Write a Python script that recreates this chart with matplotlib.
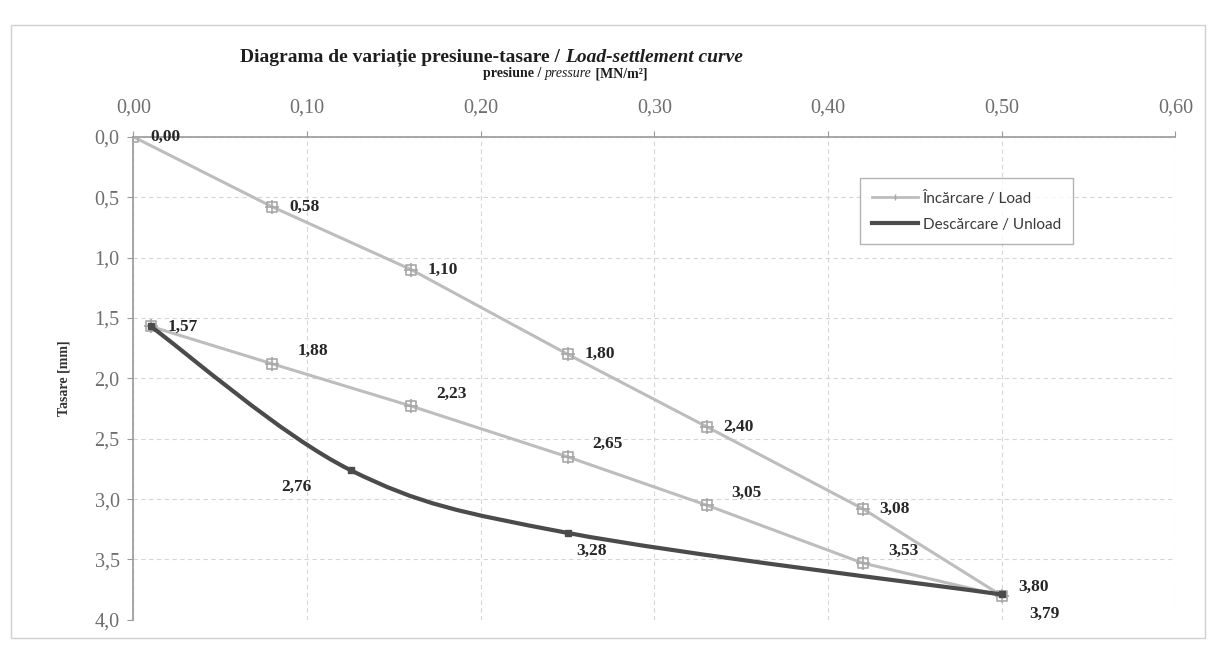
import matplotlib

matplotlib.use("Agg")
import matplotlib.pyplot as plt
from matplotlib.path import Path
from matplotlib.patches import PathPatch, Rectangle
from matplotlib.lines import Line2D
from matplotlib.ticker import FuncFormatter, MultipleLocator

# load branch + reload branch (drawn as one "Load" series, as in the sheet)
load_p = [0.00, 0.08, 0.16, 0.25, 0.33, 0.42, 0.50]
load_s = [0.00, 0.58, 1.10, 1.80, 2.40, 3.08, 3.80]
reload_p = [0.42, 0.33, 0.25, 0.16, 0.08, 0.01]
reload_s = [3.53, 3.05, 2.65, 2.23, 1.88, 1.57]
# unload branch (smoothed line)
unload_p = [0.50, 0.25, 0.125, 0.01]
unload_s = [3.79, 3.28, 2.76, 1.57]

LIGHT = "#bdbdbd"
DARK = "#4b4b4b"
TICK_C = "#6e6e6e"
SERIF = "Liberation Serif"

plt.rcParams["font.family"] = [SERIF, "DejaVu Serif"]

fig = plt.figure(figsize=(12.13, 6.58), dpi=100, facecolor="white")
ax = fig.add_axes([0.110, 0.058, 0.859, 0.734])

# chart-area frame
fig.patches.append(Rectangle((0.009, 0.03), 0.984, 0.932, transform=fig.transFigure,
                             fill=False, edgecolor="#cfcfcf", linewidth=1))

# marker: square with a plus inside
mk = Path([(-1, -1), (1, -1), (1, 1), (-1, 1), (-1, -1), (0, -1.5), (0, 1.5), (-1.5, 0), (1.5, 0)],
          [Path.MOVETO, Path.LINETO, Path.LINETO, Path.LINETO, Path.CLOSEPOLY,
           Path.MOVETO, Path.LINETO, Path.MOVETO, Path.LINETO])

all_p = load_p + reload_p
all_s = load_s + reload_s
ax.plot(all_p, all_s, color=LIGHT, lw=2.2, marker=mk, ms=10, mfc="none", mec="#a8a8a8", mew=1.2, zorder=3)

# smoothed unload curve (Excel-like bezier)
pts = list(zip(unload_p, unload_s))
verts = [pts[0]]
codes = [Path.MOVETO]
n = len(pts)
for i in range(n - 1):
    p_prev = pts[i - 1] if i > 0 else pts[i]
    p0, p1 = pts[i], pts[i + 1]
    p_next = pts[i + 2] if i + 2 < n else pts[i + 1]
    c1 = (p0[0] + (p1[0] - p_prev[0]) / 6, p0[1] + (p1[1] - p_prev[1]) / 6)
    c2 = (p1[0] - (p_next[0] - p0[0]) / 6, p1[1] - (p_next[1] - p0[1]) / 6)
    verts += [c1, c2, p1]
    codes += [Path.CURVE4] * 3
ax.add_patch(PathPatch(Path(verts, codes), fill=False, edgecolor=DARK, lw=3, zorder=4))
ax.plot(unload_p, unload_s, ls="none", marker="s", ms=5, color=DARK, zorder=5)

# data labels
LBL = dict(fontsize=12.5, fontweight="bold", color="#262626", va="center", ha="left")


def lab(x, y, v, dx, dy):
    ax.annotate(f"{v:.2f}".replace(".", ","), (x, y), xytext=(dx, dy), textcoords="offset points", **LBL)


for p, s in zip(load_p, load_s):
    lab(p, s, s, 12, 0 if s < 3.5 else 6)
for p, s in zip(reload_p, reload_s):
    lab(p, s, s, 12 if p < 0.05 else 18, 0 if p < 0.05 else 9)
for p, s in zip(unload_p, unload_s):
    if p == 0.125:
        lab(p, s, s, -50, -12)
    elif p == 0.25:
        lab(p, s, s, 6, -13)
    elif p == 0.50:
        lab(p, s, s, 20, -14)

# axes
ax.set_xlim(0, 0.60)
ax.set_ylim(4.0, 0.0)
ax.xaxis.tick_top()
ax.xaxis.set_major_locator(MultipleLocator(0.1))
ax.yaxis.set_major_locator(MultipleLocator(0.5))
ax.xaxis.set_major_formatter(FuncFormatter(lambda v, _: f"{v:.2f}".replace(".", ",")))
ax.yaxis.set_major_formatter(FuncFormatter(lambda v, _: f"{v:.1f}".replace(".", ",")))
ax.tick_params(labelsize=14.5, colors="#9a9a9a", labelcolor=TICK_C, length=4, pad=6)
ax.tick_params(axis="x", pad=10)
for s in ("bottom", "right"):
    ax.spines[s].set_visible(False)
for s in ("top", "left"):
    ax.spines[s].set_color("#9a9a9a")
    ax.spines[s].set_linewidth(1.2)
ax.grid(True, color="#d6d6d6", ls=(0, (4, 3)), lw=0.8)
ax.set_axisbelow(True)

ax.set_ylabel("Tasare [mm]", fontsize=10, fontweight="bold", color="#333333", labelpad=17)

# legend
h_load = Line2D([], [], color=LIGHT, lw=2, marker="|", ms=4, mec="#a8a8a8")
h_un = Line2D([], [], color=DARK, lw=3)
leg = ax.legend([h_load, h_un], ["Încărcare / Load", "Descărcare / Unload"],
                loc="upper left", bbox_to_anchor=(0.69, 0.93), frameon=True, fancybox=False,
                prop={"family": "Lato", "size": 11}, handlelength=3, handletextpad=0.3,
                borderpad=0.8, labelspacing=0.8, labelcolor="#3a3a3a")
leg.get_frame().set_edgecolor("#a0a0a0")
leg.get_frame().set_linewidth(1)

# rich-text title and x-axis label
renderer = fig.canvas.get_renderer()


def rich(xc, y, pieces, size):
    texts = [fig.text(0, y, s, size=size, va="center", ha="left", color="#1e1e1e", **kw) for s, kw in pieces]
    widths = [t.get_window_extent(renderer).width for t in texts]
    x0 = xc * fig.bbox.width - sum(widths) / 2
    for t, w in zip(texts, widths):
        t.set_x(x0 / fig.bbox.width)
        x0 += w


rich(0.405, 0.913, [("Diagrama de variație presiune-tasare / ", dict(fontweight="bold")),
                    ("Load-settlement curve", dict(fontweight="bold", style="italic"))], 14)
rich(0.466, 0.888, [("presiune / ", dict(fontweight="bold")),
                    ("pressure", dict(style="italic")),
                    (" [MN/m²]", dict(fontweight="bold"))], 10)

fig.savefig("out.png", dpi=100, facecolor="white")
